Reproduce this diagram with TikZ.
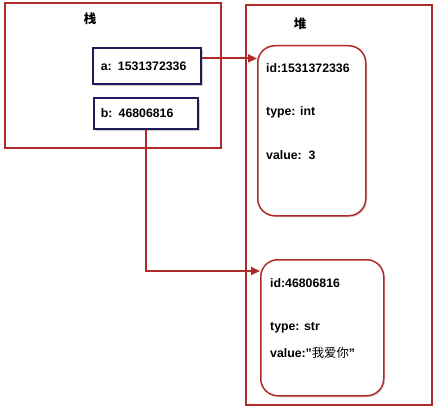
\documentclass[tikz,border=0pt]{standalone}
\usepackage{fontspec}
\setmainfont{Liberation Sans}
\newfontfamily\cjk{Noto Sans CJK SC}
\usetikzlibrary{arrows.meta,shadows}
\definecolor{dred}{HTML}{B02A2A}
\definecolor{navy}{HTML}{1C1C5A}
\begin{document}
\begin{tikzpicture}[x=1pt,y=-1pt,
  area/.style={draw=dred, line width=1.7pt},
  var/.style={draw=navy, line width=1.8pt, fill=white, anchor=north west,
    drop shadow={shadow xshift=2pt, shadow yshift=-2pt, fill=gray!60, opacity=.6},
    font=\fontsize{12.3}{14}\selectfont\bfseries, align=left, inner ysep=0pt},
  obj/.style={draw=dred, line width=1.5pt, rounded corners=17pt, fill=white, anchor=north west,
    drop shadow={shadow xshift=1.5pt, shadow yshift=-1.5pt, fill=gray!50, opacity=.5}},
  field/.style={anchor=base west, inner sep=0pt, font=\fontsize{12.3}{14}\selectfont\bfseries},
  title/.style={inner sep=0pt, font=\cjk\bfseries\fontsize{12.5}{14}\selectfont},
  arr/.style={draw=dred, line width=2pt, -{Triangle[length=9pt,width=8pt]}}]
\useasboundingbox[fill=white] (0,0) rectangle (437,412);
% stack and heap areas
\draw[area] (5,3) rectangle (221,148);
\draw[area] (246,5) rectangle (432,405);
\node[title] (stk) at (90,19) {栈};
\node[title] (hp) at (300,24) {堆};
% variables
\node[var, inner xsep=8pt, text width=92pt, minimum height=36pt] (a) at (92,47) {a: 1531372336};
\node[var, inner xsep=7pt, text width=90pt, minimum height=31pt] (b) at (93,97) {b: 46806816};
% heap objects
\node[obj, minimum width=108pt, minimum height=170pt] (h1) at (257,45) {};
\node[obj, minimum width=123pt, minimum height=136pt] (h2) at (260,259) {};
\node[field] (h1id) at (266,73) {id:1531372336};
\node[field] (h1ty) at (266,116) {type: int};
\node[field] (h1va) at (266,159) {value:\ \ 3};
\node[field] (h2id) at (270,287) {id:46806816};
\node[field] (h2ty) at (270,330) {type: str};
\node[field] (h2va) at (270,357) {value:"{\cjk\mdseries 我爱你}"};
% connectors
\coordinate (aout) at ([yshift=7.5pt]a.east);
\draw[arr] (aout) -- (aout -| h1.west);
\coordinate (bturn) at (b.south |- 0,271);
\draw[arr] (b.south) -- (bturn) -- (bturn -| h2.west);
\end{tikzpicture}
\end{document}
